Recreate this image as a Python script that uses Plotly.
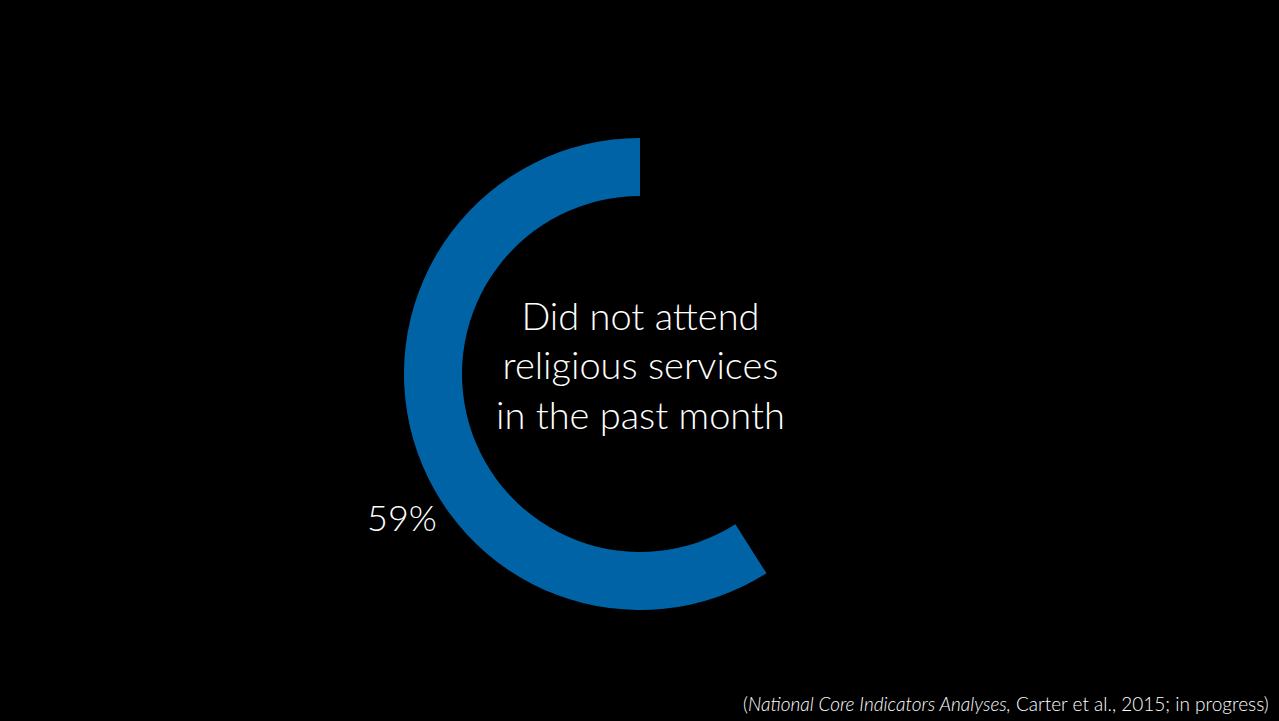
import plotly.graph_objects as go

# Share of respondents who did not attend religious services in the past month
labels = ["Attended", "Did not attend"]
values = [41, 59]
slice_colors = ["rgba(0,0,0,0)", "#0063A6"]
center_text = "Did not attend<br>religious services<br>in the past month"
value_label = "59%"
source_note = "(<i>National Core Indicators Analyses,</i> Carter et al., 2015; in progress)"

W, H = 1279, 721
cx, cy, r = 640, 374, 236  # ring centre and outer radius in px

fig = go.Figure(
    go.Pie(
        labels=labels,
        values=values,
        hole=178 / 236,
        sort=False,
        direction="clockwise",
        rotation=0,
        marker=dict(colors=slice_colors, line=dict(width=0)),
        textinfo="none",
        hoverinfo="label+percent",
        showlegend=False,
        domain=dict(
            x=[(cx - r) / W, (cx + r) / W],
            y=[(H - cy - r) / H, (H - cy + r) / H],
        ),
    )
)

font_family = "Lato"
fig.add_annotation(
    x=cx / W, y=(H - 364) / H, xref="paper", yref="paper",
    text=center_text, showarrow=False, align="center",
    font=dict(family=font_family, size=38, color="white", weight=300),
    xanchor="center", yanchor="middle",
)
fig.add_annotation(
    x=402 / W, y=(H - 517) / H, xref="paper", yref="paper",
    text=value_label, showarrow=False,
    font=dict(family=font_family, size=36, color="white", weight=300),
    xanchor="center", yanchor="middle",
)
fig.add_annotation(
    x=1271 / W, y=(H - 703) / H, xref="paper", yref="paper",
    text=source_note, showarrow=False,
    font=dict(family=font_family, size=19, color="white", weight=300),
    xanchor="right", yanchor="middle",
)

fig.update_layout(
    width=W, height=H,
    margin=dict(l=0, r=0, t=0, b=0),
    paper_bgcolor="black", plot_bgcolor="black",
)

fig.write_html("out.html")
